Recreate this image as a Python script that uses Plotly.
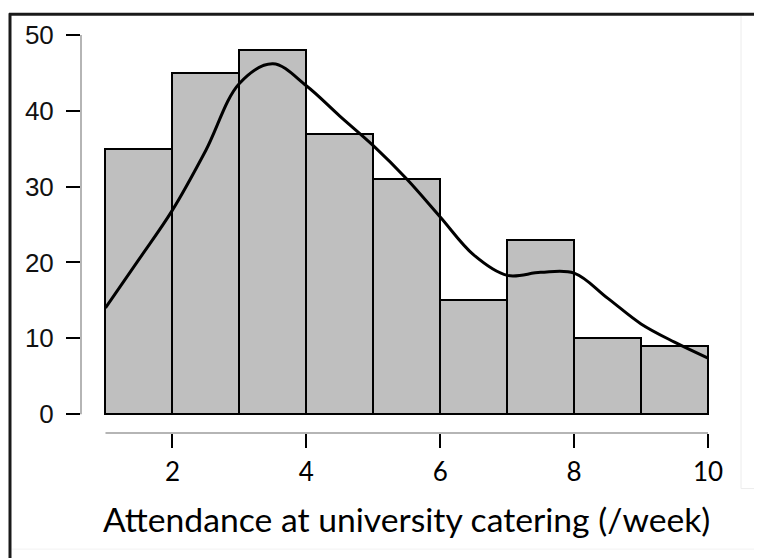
import plotly.graph_objects as go

# Histogram bins (width 1) and counts
bin_left = [1, 2, 3, 4, 5, 6, 7, 8, 9]
counts = [35, 45, 48, 37, 31, 15, 23, 10, 9]

# Density curve (scaled to counts), read at half-unit steps
curve_x = [1, 1.5, 2, 2.5, 3, 3.5, 4, 4.5, 5, 5.5, 6, 6.5, 7, 7.5, 8, 8.5, 9, 9.5, 10]
curve_y = [14.0, 20.4, 26.9, 34.8, 43.6, 46.2, 43.3, 39.3, 35.4, 31.0, 26.0, 21.0, 18.3, 18.7, 18.6, 15.3, 11.9, 9.5, 7.4]

x_ticks = [2, 4, 6, 8, 10]
y_ticks = [0, 10, 20, 30, 40, 50]
x_title = "Attendance at university catering (/week)"

W, H = 762, 558
OFF = 8  # page body margin offset
# target screen positions of plot area
scr_left, scr_right, scr_top, scr_bottom = 81, 712, 28, 433
L = scr_left - OFF
T = scr_top - OFF
R = W - (scr_right - OFF)
B = H - (scr_bottom - OFF)
pw, ph = W - L - R, H - T - B

def sx(px):
    return (px - scr_left) / pw

def sy(py):
    return (scr_bottom - py) / ph

fig = go.Figure()
fig.add_trace(go.Bar(
    x=[b + 0.5 for b in bin_left], y=counts, width=1,
    marker=dict(color="#bfbfbf", line=dict(color="black", width=2)),
    hoverinfo="skip",
))
fig.add_trace(go.Scatter(
    x=curve_x, y=curve_y, mode="lines",
    line=dict(color="black", width=3, shape="spline", smoothing=1),
    hoverinfo="skip",
))

shapes = [
    # R-style axis lines
    dict(type="line", xref="x", yref="paper", x0=1, x1=10, y0=0, y1=0,
         line=dict(color="#b5b5b5", width=2)),
    dict(type="line", xref="paper", yref="y", x0=0, x1=0, y0=0, y1=50,
         line=dict(color="#b5b5b5", width=2)),
    # outer frame (cropped on right and bottom)
    dict(type="line", xref="paper", yref="paper",
         x0=sx(9), x1=sx(775), y0=sy(11), y1=sy(11),
         line=dict(color="#1a1a1a", width=3)),
    dict(type="line", xref="paper", yref="paper",
         x0=sx(10), x1=sx(10), y0=sy(10), y1=sy(570),
         line=dict(color="#1a1a1a", width=3)),
    # faint edge lines
    dict(type="line", xref="paper", yref="paper",
         x0=sx(741), x1=sx(741), y0=sy(13), y1=sy(489),
         line=dict(color="#ececec", width=1)),
    dict(type="line", xref="paper", yref="paper",
         x0=sx(741), x1=sx(775), y0=sy(489), y1=sy(489),
         line=dict(color="#ececec", width=1)),
    dict(type="line", xref="paper", yref="paper",
         x0=sx(12), x1=sx(775), y0=sy(550), y1=sy(550),
         line=dict(color="#f2f2f2", width=1)),
]

fig.update_layout(
    width=W, height=H,
    margin=dict(l=L, r=R, t=T, b=B, pad=0),
    paper_bgcolor="white", plot_bgcolor="white",
    showlegend=False, bargap=0,
    shapes=shapes,
    xaxis=dict(
        range=[1 - 24.5 / 67, 10 + 4 / 67],
        tickvals=x_ticks, ticktext=[str(v) for v in x_ticks],
        ticks="outside", ticklen=14, tickwidth=2, tickcolor="black",
        showline=False, showgrid=False, zeroline=False,
        tickfont=dict(family="Lato", size=26, color="black"),
        ticklabelstandoff=2,
    ),
    yaxis=dict(
        range=[-19 / 7.64, 50 + 4 / 7.64],
        tickvals=y_ticks, ticktext=[str(v) for v in y_ticks],
        ticks="outside", ticklen=14, tickwidth=2, tickcolor="black",
        showline=False, showgrid=False, zeroline=False,
        tickfont=dict(family="Liberation Sans", size=26, color="#111111"),
        ticklabelstandoff=7,
    ),
    annotations=[dict(
        text=x_title, xref="x", yref="paper", x=5.5, y=sy(520),
        xanchor="center", yanchor="middle", showarrow=False,
        font=dict(family="Lato", size=33.7, color="black"),
    )],
)

fig.write_html("out.html")
